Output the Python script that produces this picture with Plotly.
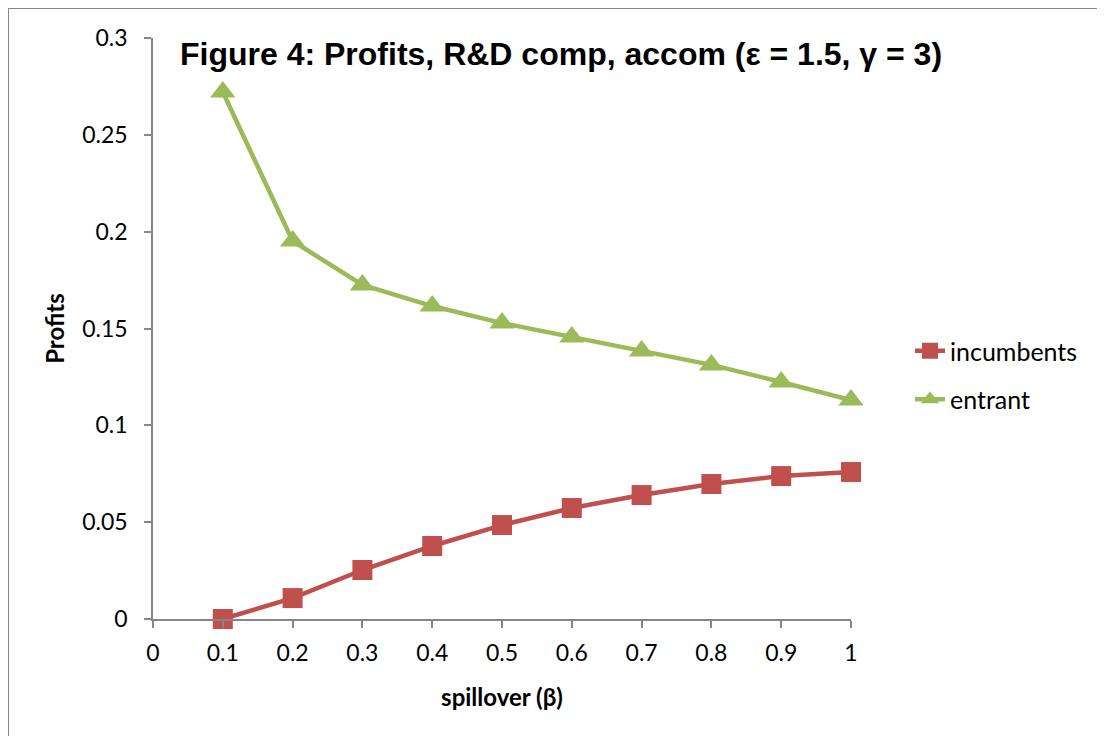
import plotly.graph_objects as go

beta = [0.1, 0.2, 0.3, 0.4, 0.5, 0.6, 0.7, 0.8, 0.9, 1.0]
incumbents = [0.0, 0.0108, 0.0253, 0.0377, 0.0485, 0.0573, 0.0640, 0.0697, 0.0738, 0.0759]
entrant = [0.2721, 0.1952, 0.1725, 0.1616, 0.1528, 0.1456, 0.1384, 0.1312, 0.1224, 0.1131]
x_ticks = [0, 0.1, 0.2, 0.3, 0.4, 0.5, 0.6, 0.7, 0.8, 0.9, 1]
x_tick_labels = ["0", "0.1", "0.2", "0.3", "0.4", "0.5", "0.6", "0.7", "0.8", "0.9", "1"]
y_ticks = [0, 0.05, 0.1, 0.15, 0.2, 0.25, 0.3]
y_tick_labels = ["0", "0.05", "0.1", "0.15", "0.2", "0.25", "0.3"]

W, H = 1105, 736
L, R, T, B = 145, 262, 30, 125
pw, ph = W - L - R, H - T - B

fig = go.Figure()
fig.add_trace(go.Scatter(
    x=beta, y=incumbents, name="incumbents", mode="lines+markers", legendgroup="a",
    line=dict(color="#C0504D", width=4.5),
    marker=dict(symbol="square", size=20, color="#C0504D"),
    cliponaxis=False,
))
fig.add_trace(go.Scatter(
    x=beta, y=entrant, name="entrant", mode="lines+markers", legendgroup="b",
    line=dict(color="#9BBB59", width=4.5),
    marker=dict(symbol="triangle-up", size=22, color="#9BBB59"),
    cliponaxis=False,
))

fam = "Lato, Carlito, sans-serif"
axis_font = dict(family=fam, size=23, color="black")

fig.update_layout(
    width=W, height=H,
    margin=dict(l=L, r=R, t=T, b=B, autoexpand=False),
    paper_bgcolor="white", plot_bgcolor="white",
    showlegend=True,
    legend=dict(x=(902 - L) / pw, y=1 - (320 - T) / ph, xanchor="left", yanchor="top",
                font=dict(family=fam, size=25, color="black"),
                tracegroupgap=13, bgcolor="rgba(0,0,0,0)"),
    xaxis=dict(range=[0, 1], tickmode="array", tickvals=x_ticks, ticktext=x_tick_labels,
               showgrid=False, zeroline=False, showline=True, linecolor="#868686", linewidth=1.5,
               ticks="outside", ticklen=7, tickcolor="#868686", tickwidth=1.5,
               tickfont=axis_font, ticklabelstandoff=6,
               title=dict(text="<b>spillover (β)</b>", font=dict(family=fam, size=24, color="black"), standoff=24)),
    yaxis=dict(range=[0, 0.3], tickmode="array", tickvals=y_ticks, ticktext=y_tick_labels,
               showgrid=False, zeroline=False, showline=True, linecolor="#868686", linewidth=1.5,
               ticks="outside", ticklen=7, tickcolor="#868686", tickwidth=1.5,
               tickfont=axis_font, ticklabelstandoff=12,
               title=dict(text="<b>Profits</b>", font=dict(family=fam, size=24, color="black"), standoff=11)),
)

fig.add_annotation(
    text="<b>Figure 4: Profits, R&amp;D comp, accom (ε = 1.5, γ = 3)</b>",
    xref="paper", yref="paper",
    x=(170 - L) / pw, y=1 - (46 - T) / ph, xanchor="left", yanchor="middle",
    showarrow=False,
    font=dict(family="Liberation Sans, Arial, sans-serif", size=32, color="black"),
)

fig.add_shape(type="rect", xref="paper", yref="paper",
              x0=(0 - L) / pw, x1=(1300 - L) / pw, y0=1 - (900 - T) / ph, y1=1 + T / ph,
              line=dict(color="#888888", width=2), fillcolor="rgba(0,0,0,0)", layer="below")

fig.write_html("out.html")
